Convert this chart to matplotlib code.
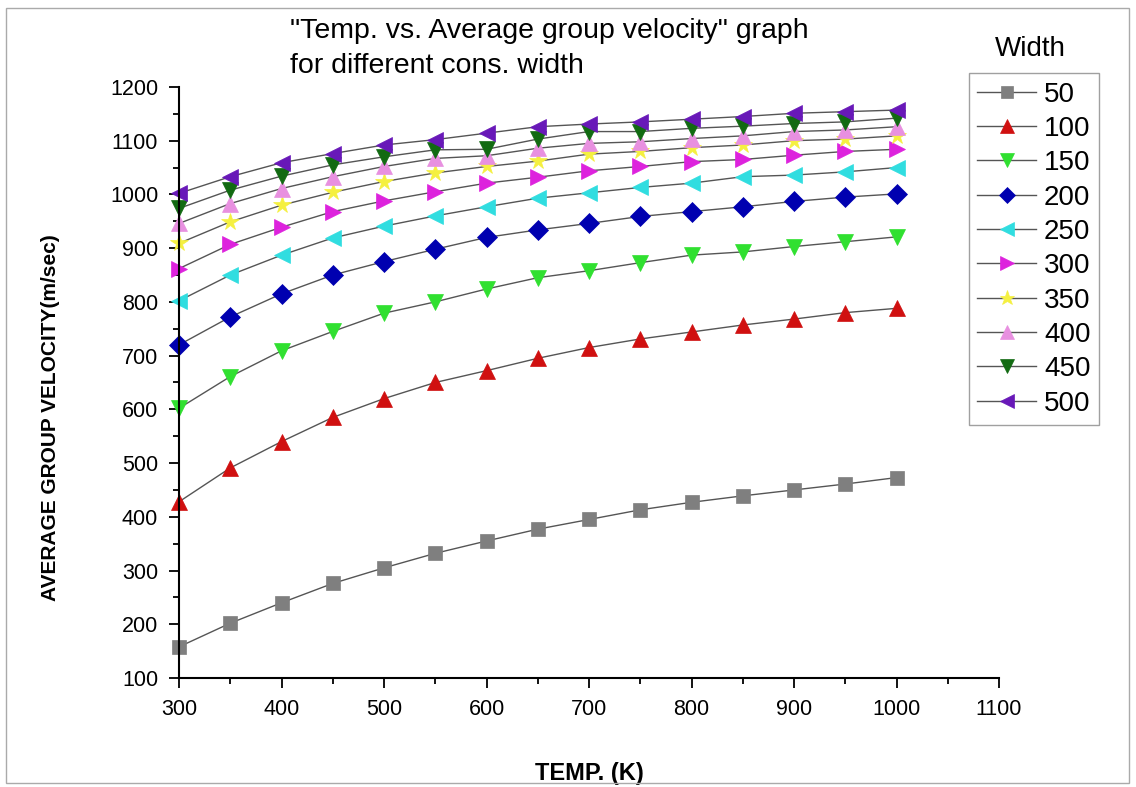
import matplotlib
matplotlib.use("Agg")
import matplotlib.pyplot as plt
from matplotlib.patches import Rectangle
from matplotlib.ticker import MultipleLocator

plt.rcParams['font.family'] = ['Liberation Sans', 'DejaVu Sans']

# temperature (K)
temp = [300, 350, 400, 450, 500, 550, 600, 650, 700, 750, 800, 850, 900, 950, 1000]

# average group velocity (m/sec) for each width
w50 = [158, 202, 240, 276, 305, 332, 355, 377, 395, 413, 427, 439, 450, 461, 473]
w100 = [428, 491, 540, 585, 620, 650, 672, 695, 715, 731, 744, 757, 768, 780, 788]
w150 = [602, 661, 709, 745, 779, 800, 824, 845, 858, 873, 887, 893, 903, 912, 921]
w200 = [720, 772, 815, 850, 875, 898, 920, 934, 946, 959, 968, 977, 987, 995, 1001]
w250 = [802, 850, 887, 919, 941, 960, 977, 993, 1003, 1013, 1021, 1033, 1036, 1042, 1050]
w300 = [862, 907, 939, 968, 988, 1005, 1021, 1032, 1044, 1052, 1061, 1065, 1073, 1080, 1084]
w350 = [909, 949, 980, 1004, 1024, 1040, 1052, 1062, 1075, 1080, 1087, 1092, 1100, 1103, 1109]
w400 = [946, 983, 1011, 1033, 1052, 1067, 1072, 1086, 1095, 1098, 1104, 1109, 1117, 1120, 1126]
w450 = [974, 1008, 1034, 1055, 1070, 1083, 1084, 1103, 1117, 1117, 1123, 1127, 1132, 1135, 1142]
w500 = [1002, 1033, 1059, 1076, 1092, 1102, 1114, 1126, 1131, 1135, 1140, 1145, 1151, 1154, 1157]

widths = ['50', '100', '150', '200', '250', '300', '350', '400', '450', '500']
series = [w50, w100, w150, w200, w250, w300, w350, w400, w450, w500]

markers = ['s', '^', 'v', 'D', '<', '>', '*', '^', 'v', '<']
colors = ['#7f7f7f', '#d01010', '#30e030', '#0000b0', '#30dde0',
          '#dd22dd', '#f5f040', '#e890e0', '#126a12', '#6818b8']
msizes = [10, 12, 12, 10, 12, 12, 13, 12, 12, 12]

fig = plt.figure(figsize=(11.36, 7.87), dpi=100)
ax = fig.add_axes([0.1576, 0.1385, 0.7218, 0.751])

for name, vals, m, c, s in zip(widths, series, markers, colors, msizes):
  ax.plot(temp, vals, color='#555555', linewidth=1.0, marker=m,
          markersize=s, markerfacecolor=c, markeredgecolor=c,
          markeredgewidth=0.5, label=name, clip_on=False)

ax.set_xlim(300, 1100)
ax.set_ylim(100, 1200)
ax.xaxis.set_major_locator(MultipleLocator(100))
ax.xaxis.set_minor_locator(MultipleLocator(50))
ax.yaxis.set_major_locator(MultipleLocator(100))
ax.yaxis.set_minor_locator(MultipleLocator(50))

ax.spines['top'].set_visible(False)
ax.spines['right'].set_visible(False)
ax.spines['left'].set_linewidth(1.5)
ax.spines['bottom'].set_linewidth(1.5)
ax.tick_params(which='major', length=7, width=1.3, labelsize=15.5, direction='out')
ax.tick_params(which='minor', length=4, width=1.3, direction='out')
ax.tick_params(axis='x', pad=8)
ax.tick_params(axis='y', pad=8)

ax.set_xlabel('TEMP. (K)', fontsize=17, fontweight='bold')
ax.xaxis.set_label_coords(0.5, -0.161)
ax.xaxis.label.set_va('center')
ax.set_ylabel('AVERAGE GROUP VELOCITY(m/sec)', fontsize=15, fontweight='bold')
ax.yaxis.set_label_coords(-0.157, 0.44)
ax.yaxis.label.set_va('center')

fig.text(0.255, 0.96, '"Temp. vs. Average group velocity" graph', fontsize=20.5, va='center')
fig.text(0.255, 0.916, 'for different cons. width', fontsize=20.5, va='center')

fig.text(0.907, 0.938, 'Width', fontsize=20, ha='center', va='center')
leg = ax.legend(loc='upper left', bbox_to_anchor=(0.853, 0.907), bbox_transform=fig.transFigure,
                fontsize=20, frameon=True, fancybox=False, edgecolor='#888888',
                handlelength=2.1, handletextpad=0.3, labelspacing=0.3,
                borderpad=0.3, borderaxespad=0, numpoints=1, markerscale=0.85)
leg.get_frame().set_linewidth(1.0)

# thin frame around the whole picture
fig.patches.append(Rectangle((0.005, 0.005), 0.989, 0.985, transform=fig.transFigure,
                             fill=False, edgecolor='#aaaaaa', linewidth=1.0))

fig.savefig('out.png', dpi=100)
